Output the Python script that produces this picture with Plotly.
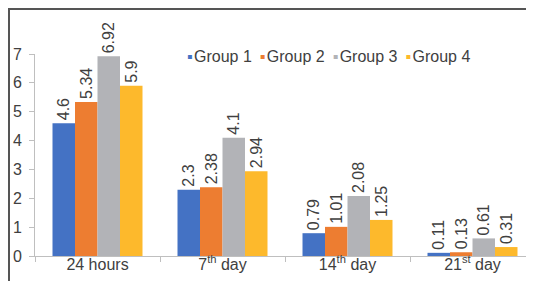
import plotly.graph_objects as go

categories = ["24 hours", "7<sup>th</sup> day", "14<sup>th</sup> day", "21<sup>st</sup> day"]
group1 = [4.6, 2.3, 0.79, 0.11]
group2 = [5.34, 2.38, 1.01, 0.13]
group3 = [6.92, 4.1, 2.08, 0.61]
group4 = [5.9, 2.94, 1.25, 0.31]
names = ["Group 1", "Group 2", "Group 3", "Group 4"]
colors = ["#4472C4", "#ED7D31", "#B2B3B7", "#FDB92C"]

W, H = 534, 281
ml, mr, mt, mb = 27, 7, 46, 33
pw, ph = W - ml - mr, H - mt - mb

fig = go.Figure()
for name, vals, col in zip(names, [group1, group2, group3, group4], colors):
    fig.add_trace(go.Bar(
        x=categories, y=vals, name=name, marker=dict(color=col, line=dict(width=0)),
        text=[str(v) for v in vals], textposition="outside", textangle=-90,
        constraintext="none",
        textfont=dict(size=16, color="#404040"), cliponaxis=False,
    ))

legend_text = "\u2002".join(
    f"<span style='color:{c}'>▪</span>\u200a{n}" for n, c in zip(names, colors)
)

fig.update_layout(
    width=W, height=H, barmode="group", bargap=0.28, bargroupgap=0,
    margin=dict(l=ml, r=mr, t=mt, b=mb, autoexpand=False),
    paper_bgcolor="white", plot_bgcolor="white",
    font=dict(family="Liberation Sans, Arial, sans-serif", color="#404040", size=16),
    showlegend=False,
    annotations=[dict(text=legend_text, xref="paper", yref="paper",
                      x=(177 - ml) / pw, y=1 + (mt - 48) / ph,
                      xanchor="left", yanchor="middle", showarrow=False,
                      font=dict(size=16, color="#404040"))],
    shapes=[dict(type="rect", xref="paper", yref="paper",
                 x0=-(ml - 1) / pw, x1=1 + (mr - 1) / pw,
                 y0=-(mb - 1) / ph, y1=1 + (mt - 1) / ph,
                 line=dict(color="#555555", width=2))],
)
fig.update_xaxes(showline=True, linecolor="#BFBFBF", linewidth=1, ticks="outside",
                 tickson="boundaries", ticklen=5, tickcolor="#BFBFBF",
                 ticklabelstandoff=-6,
                 tickfont=dict(size=16, color="#404040"), showgrid=False)
fig.update_yaxes(range=[0, 7], dtick=1, showline=True, linecolor="#BFBFBF", linewidth=1,
                 ticks="outside", ticklen=5, tickcolor="#BFBFBF", showgrid=False,
                 ticklabelstandoff=4,
                 zeroline=False, tickfont=dict(size=16, color="#404040"))

fig.write_html("out.html")
